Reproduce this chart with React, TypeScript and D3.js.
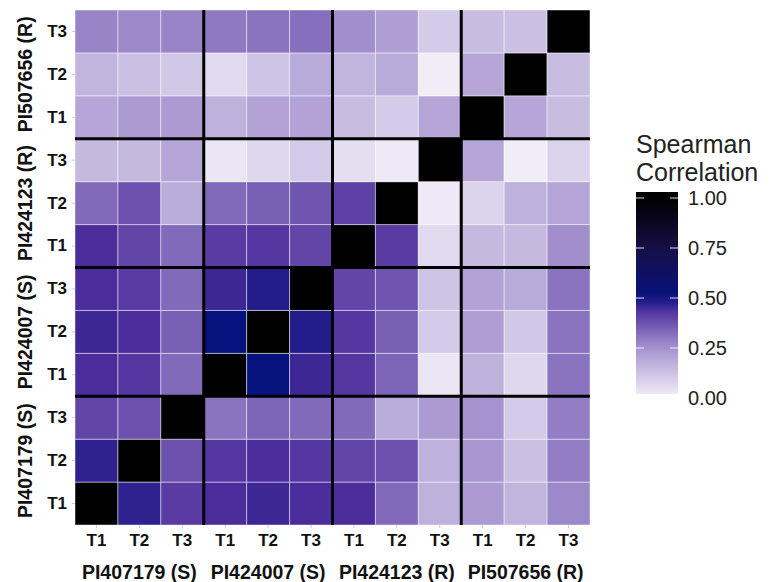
import React, { useRef, useEffect } from "react";
import * as d3 from "d3";

const genotypes = ["PI407179 (S)", "PI424007 (S)", "PI424123 (R)", "PI507656 (R)"];
const timepoints = ["T1", "T2", "T3"];

// one array per row, bottom row first; columns follow the x axis order
const rowPI407179T1 = [1, 0.47, 0.42, 0.45, 0.46, 0.45, 0.45, 0.33, 0.17, 0.23, 0.16, 0.27];
const rowPI407179T2 = [0.47, 1, 0.38, 0.43, 0.45, 0.43, 0.4, 0.38, 0.17, 0.24, 0.13, 0.29];
const rowPI407179T3 = [0.4, 0.38, 1, 0.31, 0.34, 0.33, 0.33, 0.18, 0.23, 0.25, 0.1, 0.29];
const rowPI424007T1 = [0.45, 0.43, 0.33, 1, 0.5, 0.46, 0.43, 0.34, 0.03, 0.17, 0.07, 0.31];
const rowPI424007T2 = [0.46, 0.45, 0.35, 0.5, 1, 0.48, 0.43, 0.35, 0.1, 0.22, 0.11, 0.31];
const rowPI424007T3 = [0.45, 0.42, 0.33, 0.46, 0.48, 1, 0.4, 0.37, 0.12, 0.21, 0.19, 0.31];
const rowPI424123T1 = [0.45, 0.4, 0.33, 0.42, 0.43, 0.4, 1, 0.42, 0.06, 0.15, 0.15, 0.26];
const rowPI424123T2 = [0.33, 0.38, 0.18, 0.33, 0.35, 0.37, 0.41, 1, 0.02, 0.08, 0.17, 0.2];
const rowPI424123T3 = [0.15, 0.15, 0.2, 0.03, 0.07, 0.1, 0.05, 0.02, 1, 0.2, 0.01, 0.08];
const rowPI507656T1 = [0.2, 0.23, 0.23, 0.17, 0.21, 0.21, 0.14, 0.1, 0.2, 1, 0.2, 0.14];
const rowPI507656T2 = [0.16, 0.13, 0.11, 0.06, 0.12, 0.19, 0.16, 0.19, 0.01, 0.2, 1, 0.14];
const rowPI507656T3 = [0.28, 0.27, 0.28, 0.3, 0.31, 0.32, 0.26, 0.22, 0.1, 0.14, 0.13, 1];

const rows = [
  rowPI407179T1, rowPI407179T2, rowPI407179T3,
  rowPI424007T1, rowPI424007T2, rowPI424007T3,
  rowPI424123T1, rowPI424123T2, rowPI424123T3,
  rowPI507656T1, rowPI507656T2, rowPI507656T3,
];

const legendTicks = [0, 0.25, 0.5, 0.75, 1];

export default function App() {
  const ref = useRef<SVGSVGElement>(null);

  useEffect(() => {
    const svg = d3.select(ref.current);
    svg.selectAll("*").remove();

    const keys = genotypes.flatMap(g => timepoints.map(t => `${g}|${t}`));
    const x = d3.scaleBand().domain(keys).range([75, 590]);
    const y = d3.scaleBand().domain(keys).range([525, 10]);

    const color = d3
      .scaleLinear<string>()
      .domain([0, 0.25, 0.45, 0.5, 0.75, 1])
      .range(["#f4f1f9", "#a593cf", "#4b2c9b", "#06127e", "#170f46", "#000000"])
      .interpolate(d3.interpolateRgb)
      .clamp(true);

    const cells = rows.flatMap((r, i) => r.map((v, j) => ({ row: keys[i], col: keys[j], v })));

    const font = "'Liberation Sans', Arial, sans-serif";

    // cells
    svg.append("g")
      .selectAll("rect")
      .data(cells)
      .enter()
      .append("rect")
      .attr("x", d => x(d.col)!)
      .attr("y", d => y(d.row)!)
      .attr("width", x.bandwidth())
      .attr("height", y.bandwidth())
      .attr("fill", d => color(d.v))
      .attr("stroke", "rgba(255,255,255,0.45)")
      .attr("stroke-width", 1);

    // group separators
    const step = x.bandwidth() * 3;
    const seps = [1, 2, 3];
    svg.append("g")
      .selectAll("line.v")
      .data(seps)
      .enter()
      .append("line")
      .attr("x1", d => 75 + d * step)
      .attr("x2", d => 75 + d * step)
      .attr("y1", 10)
      .attr("y2", 525)
      .attr("stroke", "#000")
      .attr("stroke-width", 3);
    svg.append("g")
      .selectAll("line.h")
      .data(seps)
      .enter()
      .append("line")
      .attr("x1", 75)
      .attr("x2", 590)
      .attr("y1", d => 525 - d * step)
      .attr("y2", d => 525 - d * step)
      .attr("stroke", "#000")
      .attr("stroke-width", 3);

    // axes
    const xAxis = svg.append("g")
      .attr("transform", "translate(0,525)")
      .call(d3.axisBottom(x).tickSize(3).tickPadding(6).tickFormat(d => d.split("|")[1]));
    const yAxis = svg.append("g")
      .attr("transform", "translate(75,0)")
      .call(d3.axisLeft(y).tickSize(3).tickPadding(5).tickFormat(d => d.split("|")[1]));
    for (const ax of [xAxis, yAxis]) {
      ax.select(".domain").remove();
      ax.selectAll("line").attr("stroke", "#ccc");
      ax.selectAll("text")
        .attr("fill", "#111")
        .style("font-family", font)
        .style("font-weight", "bold")
        .style("font-size", "17px");
    }

    // group labels
    svg.append("g")
      .selectAll("text")
      .data(genotypes)
      .enter()
      .append("text")
      .attr("x", (d, i) => 75 + (i + 0.5) * step)
      .attr("y", 579)
      .attr("text-anchor", "middle")
      .style("font-family", font)
      .style("font-weight", "bold")
      .style("font-size", "19.5px")
      .attr("fill", "#111")
      .text(d => d);
    svg.append("g")
      .selectAll("text")
      .data(genotypes)
      .enter()
      .append("text")
      .attr("transform", (d, i) => `translate(32,${525 - (i + 0.5) * step}) rotate(-90)`)
      .attr("text-anchor", "middle")
      .style("font-family", font)
      .style("font-weight", "bold")
      .style("font-size", "19.5px")
      .attr("fill", "#111")
      .text(d => d);

    // legend
    const lg = svg.append("g");
    lg.append("text")
      .attr("x", 636)
      .attr("y", 153)
      .style("font-family", font)
      .style("font-size", "25px")
      .attr("fill", "#222")
      .text("Spearman");
    lg.append("text")
      .attr("x", 636)
      .attr("y", 181)
      .style("font-family", font)
      .style("font-size", "25px")
      .attr("fill", "#222")
      .text("Correlation");

    const ly = d3.scaleLinear().domain([0, 1]).range([398, 198]);
    const top = ly(1.03), bottom = ly(0.02);
    const defs = svg.append("defs");
    const grad = defs.append("linearGradient")
      .attr("id", "legend-grad")
      .attr("x1", 0).attr("x2", 0).attr("y1", 0).attr("y2", 1);
    d3.range(0, 21).forEach(k => {
      const t = k / 20;
      const v = ly.invert(top + t * (bottom - top));
      grad.append("stop").attr("offset", t).attr("stop-color", color(v));
    });
    lg.append("rect")
      .attr("x", 636)
      .attr("y", top)
      .attr("width", 42)
      .attr("height", bottom - top)
      .attr("fill", "url(#legend-grad)");

    lg.selectAll("line.tl")
      .data(legendTicks.filter(d => d > 0))
      .enter()
      .append("line")
      .attr("x1", 636).attr("x2", 644)
      .attr("y1", d => ly(d)).attr("y2", d => ly(d))
      .attr("stroke", "rgba(255,255,255,0.7)")
      .attr("stroke-width", 1.2);
    lg.selectAll("line.tr")
      .data(legendTicks.filter(d => d > 0))
      .enter()
      .append("line")
      .attr("x1", 670).attr("x2", 678)
      .attr("y1", d => ly(d)).attr("y2", d => ly(d))
      .attr("stroke", "rgba(255,255,255,0.7)")
      .attr("stroke-width", 1.2);

    lg.selectAll("text.lab")
      .data(legendTicks)
      .enter()
      .append("text")
      .attr("x", 688)
      .attr("y", d => ly(d))
      .attr("dy", "0.36em")
      .style("font-family", font)
      .style("font-size", "20px")
      .attr("fill", "#222")
      .text(d => d.toFixed(2));
  }, []);

  return (
    <svg
      ref={ref}
      width={771}
      height={582}
      style={{ position: "absolute", left: 0, top: 0, background: "#fff" }}
    />
  );
}
